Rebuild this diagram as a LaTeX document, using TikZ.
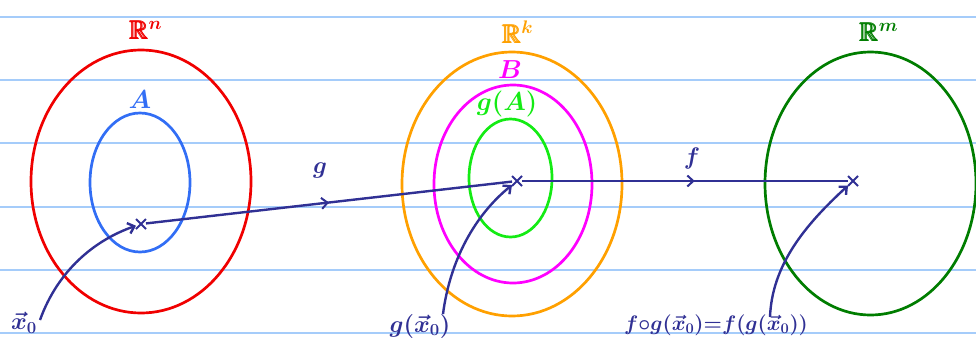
\RequirePackage{fix-cm}
\documentclass[tikz,border=0pt]{standalone}
\usepackage{amsmath,amssymb}
\usetikzlibrary{shapes.geometric,shapes.misc,arrows.meta,decorations.markings}
\definecolor{rulecol}{RGB}{165,204,250}
\definecolor{ink}{RGB}{48,48,148}
\definecolor{setA}{RGB}{50,110,245}
\definecolor{orangeR}{RGB}{255,160,0}
\definecolor{magB}{RGB}{255,0,255}
\definecolor{greenG}{RGB}{20,235,20}
\definecolor{darkG}{RGB}{0,125,0}
\definecolor{redR}{RGB}{240,0,0}
\begin{document}
\begin{tikzpicture}[x=1pt,y=-1pt,
  setring/.style={ellipse, draw, line width=2.7pt, inner sep=0pt, outer sep=0pt},
  lab/.style={inner sep=1pt, font=\fontsize{26}{30}\selectfont\boldmath},
  inklab/.style={inner sep=1pt, text=ink, font=\fontsize{24}{28}\selectfont\boldmath},
  cross/.style={cross out, draw=ink, line width=2pt, minimum size=8pt, inner sep=0pt},
  inkline/.style={draw=ink, line width=2.4pt},
  midarrow/.style={postaction={decorate}, decoration={markings,
     mark=at position #1 with {\arrow[ink,line width=2pt]{Straight Barb[length=6pt,width=11pt]}}}},
  endarrow/.style={-{Straight Barb[length=6pt,width=11pt]}}
]
\useasboundingbox (0,0) rectangle (976,348);
% ruled paper
\foreach \yy in {16.7,80,143.3,206.7,270,333.3}
  \draw[rulecol, line width=1.8pt] (0,\yy) -- (976,\yy);

% sets
\node[setring, draw=redR, minimum width=220pt, minimum height=263pt] (Rn) at (141,181.5) {};
\node[setring, draw=setA, minimum width=100pt, minimum height=139pt] (A) at (140,182.5) {};
\node[setring, draw=orangeR, minimum width=220pt, minimum height=264pt] (Rk) at (512,184) {};
\node[setring, draw=magB, minimum width=158pt, minimum height=198pt] (B) at (513,184) {};
\node[setring, draw=greenG, minimum width=83pt, minimum height=118pt] (gA) at (510.5,178) {};
\node[setring, draw=darkG, minimum width=211pt, minimum height=263pt] (Rm) at (870.5,183.5) {};

% set labels
\node[lab, text=redR] (lRn) at (146,30) {$\pmb{\mathbb{R}}^n$};
\node[lab, text=setA] (lA) at (140,100) {$A$};
\node[lab, text=orangeR] (lRk) at (518,32) {$\pmb{\mathbb{R}}^k$};
\node[lab, text=magB] (lB) at (510,70) {$B$};
\node[lab, text=greenG] (lgA) at (507,104) {$g(A)$};
\node[lab, text=darkG] (lRm) at (879,32) {$\pmb{\mathbb{R}}^m$};

% points
\node[cross] (p1) at (141,224) {};
\node[cross] (p2) at (517,181) {};
\node[cross] (p3) at (853,181) {};

% maps
\draw[inkline, midarrow=0.5] (p1) -- (p2);
\draw[inkline, midarrow=0.53] (p2) -- (p3);
\node[inklab] (lg) at (320,170) {$g$};
\node[inklab] (lf) at (692,158) {$f$};

% bottom labels
\node[inklab] (x0) at (24,323) {$\vec{x}_0$};
\node[inklab] (gx0) at (420,326) {$g(\vec{x}_0)$};
\node[inklab, font=\fontsize{21}{25}\selectfont\boldmath] (fgx0) at (716,325) {$f{\circ}g(\vec{x}_0){=}f(g(\vec{x}_0))$};

\coordinate (c1) at (40,320);
\coordinate (c2) at (443,314);
\coordinate (c3) at (770,317);
\draw[inkline, endarrow] (c1) .. controls (58,270) and (95,240) .. (p1);
\draw[inkline, endarrow] (c2) .. controls (450,260) and (475,215) .. (p2);
\draw[inkline, endarrow] (c3) .. controls (772,265) and (805,225) .. (p3);
\end{tikzpicture}
\end{document}
